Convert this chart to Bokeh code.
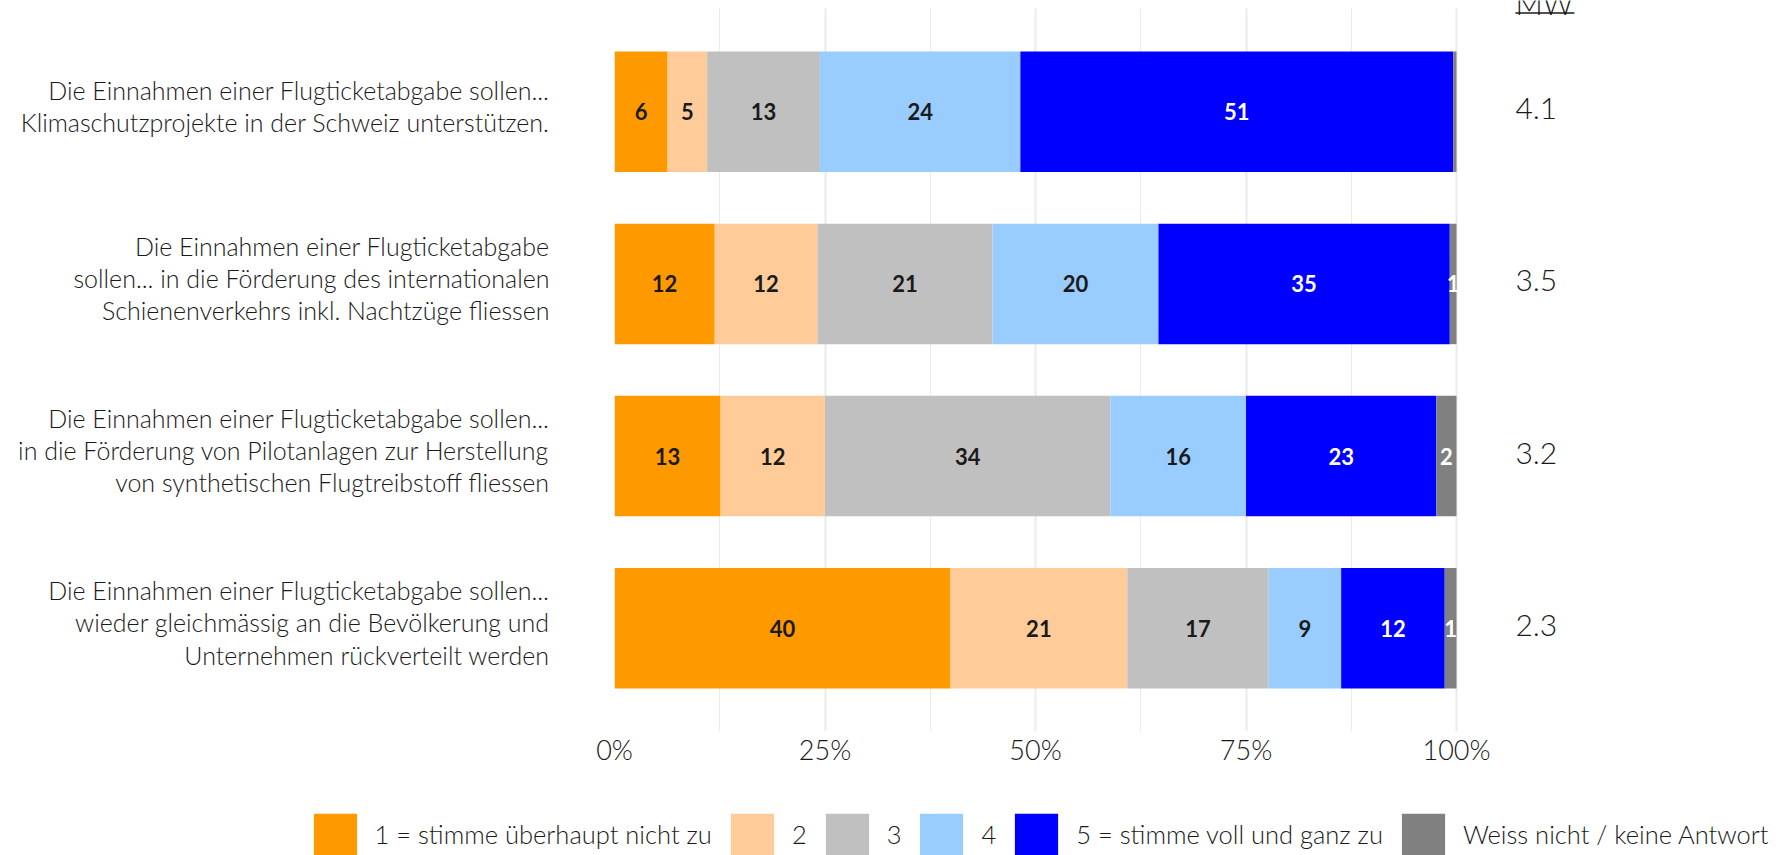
import numpy as np
from bokeh.plotting import figure
from bokeh.models import (ColumnDataSource, Range1d, FixedTicker, Legend, LegendItem,
                          BoxAnnotation)
from bokeh.core.properties import value
from bokeh.embed import file_html
from bokeh.resources import INLINE

# ---------------- data ----------------
questions = [
    "Die Einnahmen einer Flugticketabgabe sollen...\nKlimaschutzprojekte in der Schweiz unterstützen.",
    "Die Einnahmen einer Flugticketabgabe\nsollen... in die Förderung des internationalen\nSchienenverkehrs inkl. Nachtzüge fliessen",
    "Die Einnahmen einer Flugticketabgabe sollen...\nin die Förderung von Pilotanlagen zur Herstellung\nvon synthetischen Flugtreibstoff fliessen",
    "Die Einnahmen einer Flugticketabgabe sollen...\nwieder gleichmässig an die Bevölkerung und\nUnternehmen rückverteilt werden",
]
answer_labels = ["1 = stimme überhaupt nicht zu", "2", "3", "4",
                 "5 = stimme voll und ganz zu", "Weiss nicht / keine Antwort"]
ans_1 = [6.3, 11.9, 12.6, 39.9]
ans_2 = [4.7, 12.2, 12.4, 21.0]
ans_3 = [13.4, 20.8, 33.9, 16.8]
ans_4 = [23.8, 19.7, 16.1, 8.6]
ans_5 = [51.4, 34.6, 22.6, 12.3]
ans_wn = [0.4, 0.8, 2.4, 1.4]
mean_values = [4.1, 3.5, 3.2, 2.3]
x_ticks = [0, 25, 50, 75, 100]
x_tick_labels = ["0%", "25%", "50%", "75%", "100%"]

# ---------------- style ----------------
colors = ["#FF9900", "#FFCC99", "#C0C0C0", "#99CCFF", "#0000FF", "#808080"]
label_colors = ["#1A1A1A", "#1A1A1A", "#1A1A1A", "#1A1A1A", "#FFFFFF", "#FFFFFF"]
LIGHT = "Lato Light"
BOLD = "Lato"
TXT = "#1A1A1A"

series = [ans_1, ans_2, ans_3, ans_4, ans_5, ans_wn]
n = len(questions)
ypos = list(range(n, 0, -1))  # first question on top

W = 1789
MAIN_H = 790
LEG_H = 65
FRAME_H = 731
unit_px = 723.0 / (n + 0.2)          # px per category unit in the panel
pad_top = 8.0 / unit_px              # strip above the panel (for the MW header)
y_top = n + 0.6

p = figure(width=W, height=MAIN_H, output_backend="svg", toolbar_location=None,
           x_range=Range1d(0, 117.1), y_range=Range1d(0.4, y_top + pad_top),
           min_border_left=614, min_border_right=189, min_border_top=0,
           min_border_bottom=MAIN_H - FRAME_H, outline_line_color=None,
           background_fill_color="white", border_fill_color="white")

# white strip hiding grid lines above the panel
p.add_layout(BoxAnnotation(bottom=y_top, fill_color="white", fill_alpha=1.0,
                           line_color=None, level="underlay"))

vals = np.array(series, dtype=float)
rights = np.cumsum(vals, axis=0)
lefts = rights - vals

for k in range(len(series)):
    src = ColumnDataSource(dict(
        y=ypos, left=lefts[k], right=rights[k],
        mid=(lefts[k] + rights[k]) / 2,
        lab=[f"{v:.0f}" if round(v) >= 1 else "" for v in vals[k]],
    ))
    p.hbar(y="y", left="left", right="right", height=0.7, source=src,
           fill_color=colors[k], line_color=None)
    p.text(x="mid", y="y", text="lab", source=src, text_align="center",
           text_baseline="middle", text_font=value(BOLD), text_font_style="bold",
           text_font_size="22px", text_color=label_colors[k])

# mean values column
mw_x = 107.0
msrc = ColumnDataSource(dict(x=[mw_x] * n, y=ypos, t=[f"{m:.1f}" for m in mean_values]))
p.text(x="x", y="y", text="t", source=msrc, text_align="left", text_baseline="middle",
       y_offset=-3, text_font=value(LIGHT), text_font_size="30px", text_color=TXT)
p.text(x=[mw_x], y=[y_top + pad_top], text=["MW"], text_align="left",
       text_baseline="alphabetic", y_offset=2, text_font=value(LIGHT),
       text_font_size="30px", text_color=TXT)
y_ul = y_top + pad_top - 12.5 / unit_px
p.segment(x0=[mw_x], x1=[mw_x + 7.0], y0=[y_ul], y1=[y_ul],
          line_color=TXT, line_width=1.5)

# axes
xa = p.xaxis[0]
xa.ticker = FixedTicker(ticks=x_ticks, minor_ticks=[12.5, 37.5, 62.5, 87.5])
xa.major_label_overrides = {t: l for t, l in zip(x_ticks, x_tick_labels)}
xa.bounds = (0, 100)
xa.axis_line_color = None
xa.major_tick_line_color = None
xa.minor_tick_line_color = None
xa.major_label_standoff = -5
xa.major_label_text_font = LIGHT
xa.major_label_text_font_size = "27px"
xa.major_label_text_color = TXT

label_shift = 6.0 / unit_px          # lift the question texts a little
ytick_pos = [y + label_shift for y in ypos]
ya = p.yaxis[0]
ya.ticker = FixedTicker(ticks=ytick_pos)
ya.major_label_overrides = {t: q for t, q in zip(ytick_pos, questions)}
ya.axis_line_color = None
ya.major_tick_line_color = None
ya.minor_tick_line_color = None
ya.major_label_standoff = 59
ya.major_label_text_font = LIGHT
ya.major_label_text_font_size = "25px"
ya.major_label_text_color = TXT
ya.major_label_text_line_height = 1.08

p.xgrid.grid_line_color = "#EBEBEB"
p.xgrid.grid_line_width = 2
p.xgrid.minor_grid_line_color = "#EBEBEB"
p.xgrid.minor_grid_line_width = 1
p.ygrid.grid_line_color = None

# ---------------- legend (separate strip below) ----------------
pl = figure(width=W, height=LEG_H, output_backend="svg", toolbar_location=None,
            x_range=Range1d(-1000, -999), y_range=Range1d(-1000, -999),
            x_axis_location=None, y_axis_location=None,
            min_border_left=0, min_border_right=0, min_border_top=0, min_border_bottom=0,
            outline_line_color=None, background_fill_color="white",
            border_fill_color="white")
pl.xgrid.visible = False
pl.ygrid.visible = False
items = []
for k in range(len(series)):
    # same data as the chart, far outside this strip's visible range: only the key shows
    r = pl.hbar(y=ypos, left=lefts[k], right=rights[k], height=0.7,
                fill_color=colors[k], line_color=None)
    items.append(LegendItem(label=answer_labels[k], renderers=[r]))
legend = Legend(items=items, orientation="horizontal", location=(307.6, -5),
                glyph_width=54, glyph_height=52, label_standoff=13, spacing=13,
                padding=0, margin=0, border_line_color=None, background_fill_alpha=0,
                label_text_font=LIGHT, label_text_font_size="25.5px",
                label_text_color=TXT, label_width=5, label_height=40)
pl.add_layout(legend, "center")

open("out.html", "w").write(file_html([p, pl], INLINE))
